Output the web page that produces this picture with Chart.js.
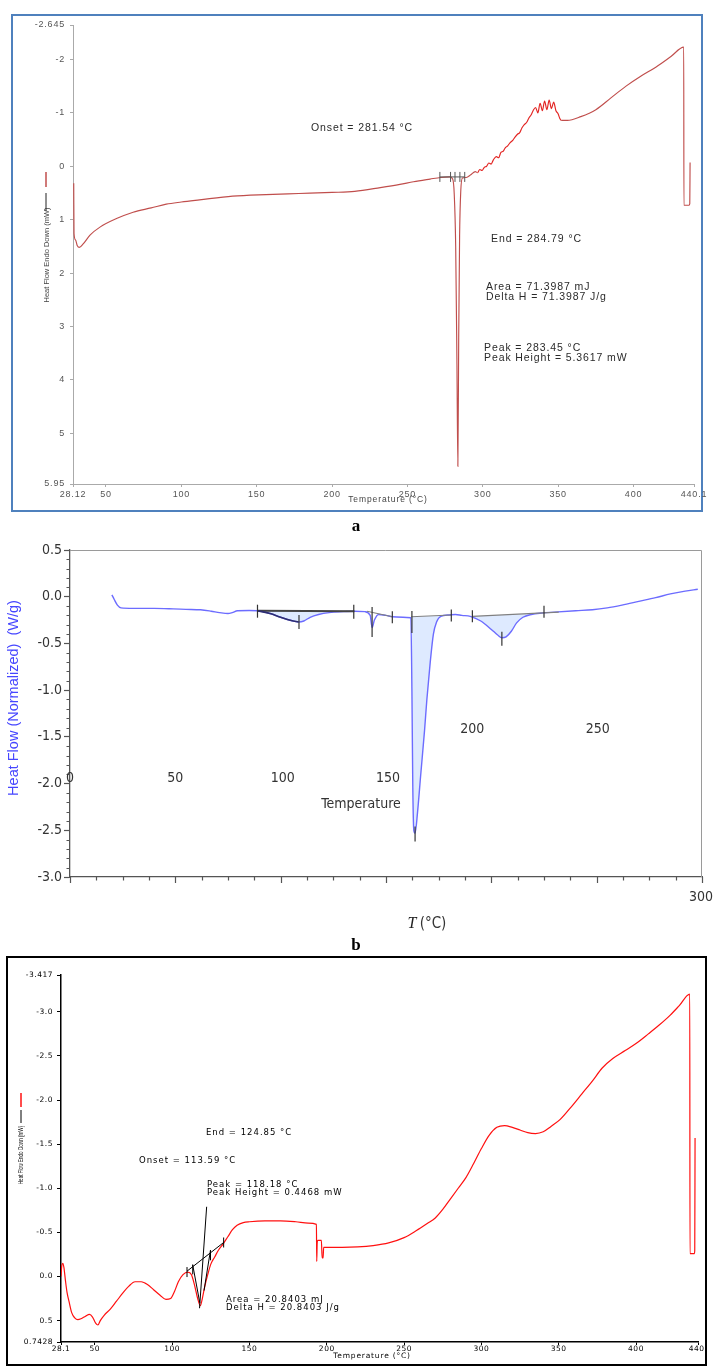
<!DOCTYPE html>
<html><head><meta charset="utf-8">
<script src="https://cdn.jsdelivr.net/npm/chart.js@4.4.1/dist/chart.umd.min.js"></script>
<style>
html,body{margin:0;padding:0;background:#fff;}
body{width:713px;height:1366px;position:relative;overflow:hidden;}
canvas{position:absolute;left:0;}
#boxA{position:absolute;left:11px;top:14px;width:688px;height:494px;border:2px solid rgb(79,129,189);}
#boxC{position:absolute;left:6px;top:956px;width:697px;height:406px;border:2px solid #000;}
.lab{position:absolute;width:40px;text-align:center;font:bold 17px 'Liberation Serif','DejaVu Serif',serif;color:#000;}
</style></head><body>
<div id="boxA"></div><div id="boxC"></div>
<canvas id="ca" width="713" height="520" style="top:0"></canvas>
<div class="lab" style="left:336px;top:516px">a</div>
<canvas id="cb" width="713" height="420" style="top:530px"></canvas>
<div class="lab" style="left:336px;top:935px">b</div>
<canvas id="cc" width="713" height="416" style="top:950px"></canvas>
<script>
// ---------- Panel a ----------
const aTemp = [28.6,28.8,29.8,31,32.3,35,39.4,46,57,68,80,90,100,112,134,156,178,200,215,232,245,254,265,272,278,280,281,282,282.8,283.45,284,284.6,285.4,286.5,289,292,295,296.5,298,299.5,301,302.5,304,305.5,307,309,310.5,312,313.5,315,316.5,318,320,321.5,323,324.5,326,327.5,329,330.5,332,333.5,335,336.5,338,339.5,341,342.5,344,345.5,347,348.5,350,351,352,356,365,375,385,395,405,415,425,433.3,433.4,436.8,437.3,437.5];
const aHeat = [0.32,1.26,1.38,1.49,1.52,1.45,1.29,1.14,0.98,0.86,0.78,0.71,0.67,0.63,0.56,0.53,0.51,0.49,0.47,0.4,0.34,0.29,0.24,0.21,0.2,0.24,0.5,1.5,3.6,5.62,3.2,1.3,0.45,0.22,0.21,0.16,0.1,0.12,0.06,0.08,0.02,0.0,-0.06,-0.04,-0.12,-0.18,-0.16,-0.26,-0.28,-0.35,-0.38,-0.44,-0.49,-0.55,-0.6,-0.63,-0.72,-0.78,-0.82,-0.9,-0.96,-1.05,-1.1,-1.0,-1.18,-1.04,-1.22,-1.06,-1.24,-1.08,-1.2,-1.04,-0.98,-0.9,-0.86,-0.86,-0.93,-1.06,-1.28,-1.5,-1.69,-1.86,-2.06,-2.23,0.73,0.73,0.7,-0.07];
const aXTicks = [28.12,50,100,150,200,250,300,350,400,440.1];
const aXTickLabels = ['28.12','50','100','150','200','250','300','350','400','440.1'];
const aYTicks = [-2.645,-2,-1,0,1,2,3,4,5,5.95];
const aYTickLabels = ['-2.645','-2','-1','0','1','2','3','4','5','5.95'];
const aBaseTemp = [271.5,288];
const aBaseHeat = [0.2,0.2];
const aMarkTemp = [271.5,278.6,281.54,284.79,288];
const aMarkHeat = [0.2,0.2,0.2,0.2,0.2];
const aNotes = ['Onset = 281.54 °C','End = 284.79 °C','Area = 71.3987 mJ','Delta H = 71.3987 J/g','Peak = 283.45 °C','Peak Height = 5.3617 mW'];
const aXTitle = 'Temperature (°C)';
const aYTitle = 'Heat Flow Endo Down (mW)';

// ---------- Panel b ----------
const bTemp = [19.9,21,22.5,24.2,30,40,49,55,62,67,71,75,77,79.5,85,89,95,100,105,108.5,111,114,118,123,130,135,140,142.5,143.4,144.5,146.5,150,153,158,161.8,162.3,162.7,163.2,163.8,165,166.5,168.3,169.4,171,172.5,174,176,180,183,186,190,195,200,203,205,207,209.5,212,215,219,224,230,240,248,255,262,270,278,285,292,298];
const bHeat = [0.02,-0.03,-0.09,-0.12,-0.125,-0.125,-0.13,-0.135,-0.14,-0.155,-0.17,-0.18,-0.17,-0.15,-0.148,-0.15,-0.18,-0.22,-0.255,-0.27,-0.26,-0.22,-0.19,-0.17,-0.16,-0.155,-0.16,-0.2,-0.33,-0.25,-0.19,-0.2,-0.215,-0.22,-0.225,-1.0,-2.0,-2.5,-2.53,-2.3,-1.9,-1.43,-1.1,-0.7,-0.4,-0.27,-0.21,-0.195,-0.19,-0.2,-0.21,-0.26,-0.35,-0.41,-0.44,-0.43,-0.37,-0.28,-0.22,-0.19,-0.175,-0.165,-0.15,-0.14,-0.12,-0.09,-0.05,-0.01,0.03,0.06,0.08];
const bBaseT0 = [89,141,162,191];
const bBaseV0 = [-0.15,-0.155,-0.215,-0.21];
const bBaseT1 = [135,153,181,232];
const bBaseV1 = [-0.155,-0.215,-0.195,-0.165];
const bMarkTemp = [89,108.7,134.7,143.4,153,162.3,163.8,181,191,205,225];
const bMarkHeat = [-0.155,-0.27,-0.16,-0.27,-0.22,-0.27,-2.54,-0.2,-0.21,-0.45,-0.16];
const bXLabels = ['0','50','100','150','200','250','300'];
const bXLabelValues = [0,50,100,150,200,250,300];
const bYTitle = 'Heat Flow (Normalized)  (W/g)';

// ---------- Panel c ----------
const cTemp = [28.1,28.6,29.3,30,31,32,33.5,35,37,39,41,44,46.5,48.5,50.5,52,53.5,56,60,64,68,72,76,80,84,88,92,96,99,101.5,104,107,110,112.5,114.5,116.5,118.2,119.5,121,123,125,127.5,130,133,136,139,142,146,150,160,170,180,188,193.3,193.5,193.8,194.2,196.5,197,197.6,198,200,210,220,230,240,250,258,265,270,275,280,285,290,295,300,305,310,315,320,325,330,335,340,345,351,358,365,372,378,385,393,400,408,415,422,428,434.8,434.9,437.8,438,438.2];
const cHeat = [0.0,-0.12,-0.15,-0.1,0.05,0.18,0.3,0.41,0.47,0.49,0.48,0.45,0.43,0.46,0.53,0.55,0.5,0.44,0.37,0.28,0.19,0.11,0.06,0.06,0.09,0.15,0.21,0.26,0.25,0.17,0.06,-0.02,-0.05,-0.02,0.1,0.25,0.33,0.25,0.12,-0.02,-0.14,-0.22,-0.3,-0.37,-0.45,-0.53,-0.58,-0.61,-0.62,-0.63,-0.63,-0.62,-0.605,-0.59,-0.17,-0.38,-0.41,-0.41,-0.21,-0.21,-0.33,-0.33,-0.33,-0.335,-0.35,-0.38,-0.44,-0.52,-0.6,-0.66,-0.76,-0.88,-1.0,-1.12,-1.28,-1.45,-1.6,-1.69,-1.71,-1.69,-1.66,-1.63,-1.62,-1.64,-1.7,-1.78,-1.92,-2.07,-2.22,-2.36,-2.47,-2.56,-2.64,-2.75,-2.85,-2.96,-3.07,-3.2,-0.26,-0.26,-0.3,-1.57];
const cXTicks = [28.1,50,100,150,200,250,300,350,400,440.1];
const cXTickLabels = ['28.1','50','100','150','200','250','300','350','400','440.'];
const cYTicks = [-3.417,-3.0,-2.5,-2.0,-1.5,-1.0,-0.5,0.0,0.5,0.7428];
const cYTickLabels = ['-3.417','-3.0','-2.5','-2.0','-1.5','-1.0','-0.5','0.0','0.5','0.7428'];
const cLineT0 = [109.6,117.7,113.3,124.8];
const cLineV0 = [-0.06,0.36,-0.13,-0.30];
const cLineT1 = [133.3,122.3,117.9,120.6];
const cLineV1 = [-0.385,-0.79,0.3,0.16];
const cMarkTemp = [109.6,113.3,124.8,133.3];
const cMarkHeat = [-0.05,-0.08,-0.24,-0.385];
const cNotes = ['End = 124.85 °C','Onset = 113.59 °C','Peak = 118.18 °C','Peak Height = 0.4468 mW','Area = 20.8403 mJ','Delta H = 20.8403 J/g'];
const cXTitle = 'Temperature (°C)';
const cYTitle = 'Heat Flow Endo Down (mW)';

// ---------- helpers ----------
const pts = (xs, ys) => xs.map((x, i) => ({x: x, y: ys[i]}));
function drawText(ctx, s, x, y, o) {
  ctx.save();
  ctx.font = o.font; ctx.fillStyle = o.color || '#000';
  ctx.textAlign = o.align || 'left'; ctx.textBaseline = 'middle';
  if ('letterSpacing' in ctx) ctx.letterSpacing = o.ls || '0px';
  ctx.translate(x, y);
  if (o.rot) ctx.rotate(o.rot);
  if (o.sx) ctx.scale(o.sx, 1);
  ctx.fillText(s, 0, 0);
  ctx.restore();
}
function seg(ctx, x0, y0, x1, y1, color, w) {
  ctx.save(); ctx.strokeStyle = color; ctx.lineWidth = w;
  ctx.beginPath(); ctx.moveTo(x0, y0); ctx.lineTo(x1, y1); ctx.stroke(); ctx.restore();
}
const noAnim = {responsive:false, animation:false, events:[], plugins:{legend:{display:false}, tooltip:{enabled:false}}};

// ---------- Chart a ----------
const SA = "'Liberation Sans', Arial, sans-serif";
new Chart(document.getElementById('ca'), {
  type: 'line',
  data: {datasets: [
    {data: pts(aTemp, aHeat), borderColor: 'rgb(192,78,76)', borderWidth: 1.15, pointRadius: 0,
     cubicInterpolationMode: 'monotone', order: 2,
     segment: {borderColor: c => (c.p0.parsed.x >= 296 && c.p1.parsed.x <= 352.5) ? 'rgb(226,36,34)' : undefined}},
    {data: pts(aBaseTemp, aBaseHeat), borderColor: '#555', borderWidth: 1, pointRadius: 0, order: 1},
    {data: pts(aMarkTemp, aMarkHeat), showLine: false, pointStyle: 'line', pointRotation: 90, pointRadius: 5,
     pointBorderColor: '#555', pointBorderWidth: 1, order: 0}
  ]},
  options: Object.assign({}, noAnim, {
    layout: {padding: {left: 23, top: 25, right: 19, bottom: 10}},
    scales: {
      x: {type: 'linear', min: 28.12, max: 440.1,
          afterBuildTicks: s => { s.ticks = aXTicks.map(v => ({value: v})); },
          afterFit: s => { s.height = 26; },
          ticks: {callback: (v, i) => aXTickLabels[i], font: {family: SA, size: 9}, color: '#555', maxRotation: 0, autoSkip: false, padding: 2},
          grid: {display: true, drawOnChartArea: false, tickLength: 3, color: '#aaa'},
          border: {color: '#aaa'}},
      y: {type: 'linear', reverse: true, min: -2.645, max: 5.95,
          afterBuildTicks: s => { s.ticks = aYTicks.map(v => ({value: v})); },
          afterFit: s => { s.width = 50; },
          ticks: {callback: (v, i) => aYTickLabels[i], font: {family: SA, size: 9}, color: '#555', autoSkip: false, padding: 5},
          grid: {display: true, drawOnChartArea: false, tickLength: 3, color: '#aaa'},
          border: {color: '#aaa'}}
    }
  }),
  plugins: [{
    id: 'txtA',
    beforeDraw(chart) { if ('letterSpacing' in chart.ctx) chart.ctx.letterSpacing = '0.8px'; },
    afterDraw(chart) {
      const ctx = chart.ctx;
      const F = "10.5px " + SA;
      const pos = [[311,128],[491,239],[486,287],[486,297],[484,348],[484,358]];
      aNotes.forEach((s, i) => drawText(ctx, s, pos[i][0], pos[i][1], {font: F, color: '#2a2a2a', ls: '0.9px'}));
      drawText(ctx, aXTitle, 388, 500, {font: "8.5px " + SA, color: '#444', align: 'center', ls: '0.9px'});
      drawText(ctx, aYTitle, 47, 255, {font: "7.5px " + SA, color: '#444', align: 'center', rot: -Math.PI / 2});
      seg(ctx, 46, 172, 46, 187, 'rgb(192,78,76)', 1.5);
      seg(ctx, 46, 193, 46, 211, '#222', 1);
    }
  }]
});

// ---------- Chart b ----------
const SN = "'Liberation Sans Narrow','DejaVu Sans Condensed','Roboto Condensed','Liberation Sans',sans-serif";
const bCurve = pts(bTemp, bHeat);
function bRegion(k) {
  const p = bCurve.filter(q => q.x >= bBaseT0[k] && q.x <= bBaseT1[k]);
  p.push({x: bBaseT1[k], y: bBaseV1[k]}, {x: bBaseT0[k], y: bBaseV0[k]});
  return p;
}
const bDatasets = [
  {data: bCurve, borderColor: 'rgb(108,108,255)', borderWidth: 1.4, pointRadius: 0, cubicInterpolationMode: 'monotone', order: 2},
  {data: bCurve.filter(q => q.x >= 89 && q.x <= 108.7), borderColor: '#2e2e70', borderWidth: 1.6, pointRadius: 0, cubicInterpolationMode: 'monotone', order: 1}
];
[0, 2, 3].forEach(k => bDatasets.push({data: bRegion(k), fill: 'shape', backgroundColor: 'rgba(205,222,255,0.65)', borderColor: 'rgba(0,0,0,0)', borderWidth: 1, pointRadius: 0, tension: 0, order: 10}));
bBaseT0.forEach((t, k) => bDatasets.push({data: [{x: t, y: bBaseV0[k]}, {x: bBaseT1[k], y: bBaseV1[k]}], borderColor: k === 0 ? '#444' : '#808080', borderWidth: k === 0 ? 2 : 1.1, pointRadius: 0, order: 1}));
bDatasets.push({data: pts(bMarkTemp, bMarkHeat), showLine: false, pointStyle: 'line', pointRotation: 90,
  pointRadius: [6.5, 7, 7, 15, 6, 11, 7.5, 6, 6, 7, 6], pointBorderColor: '#333', pointBorderWidth: 1.2, order: 0});

new Chart(document.getElementById('cb'), {
  type: 'line',
  data: {datasets: bDatasets},
  options: Object.assign({}, noAnim, {
    layout: {padding: {left: 10, top: 20, right: 11, bottom: 13}},
    scales: {
      x: {type: 'linear', min: 0, max: 300, afterFit: s => { s.height = 60; },
          ticks: {display: false}, grid: {display: false}, border: {display: true, color: '#555', width: 1.3}},
      y: {type: 'linear', min: -3, max: 0.5, afterFit: s => { s.width = 60; },
          ticks: {stepSize: 0.5, callback: v => v.toFixed(1), font: {family: SN, size: 14}, color: '#333', padding: 2},
          grid: {display: true, drawOnChartArea: false, tickLength: 6, color: '#555', tickWidth: 1.2},
          border: {display: true, color: '#555', width: 1.3}}
    }
  }),
  plugins: [{
    id: 'txtB',
    afterDraw(chart) {
      const ctx = chart.ctx, a = chart.chartArea, xs = chart.scales.x, ys = chart.scales.y;
      ctx.save(); ctx.strokeStyle = '#9a9a9a'; ctx.lineWidth = 1;
      ctx.beginPath(); ctx.moveTo(a.left, a.top + 0.5); ctx.lineTo(a.right - 0.5, a.top + 0.5); ctx.lineTo(a.right - 0.5, a.bottom); ctx.stroke(); ctx.restore();
      for (let k = -30; k <= 5; k++) {
        if (k % 5 === 0) continue;
        const py = Math.round(ys.getPixelForValue(k / 10)) + 0.5;
        seg(ctx, a.left - 3.5, py, a.left, py, '#555', 1);
      }
      for (let k = 0; k <= 24; k++) {
        const px = Math.round(xs.getPixelForValue(k * 12.5)) + 0.5;
        seg(ctx, px, a.bottom, px, a.bottom + (k % 4 === 0 ? 6 : 3.5), '#555', 1.2);
      }
      const lay = [[0, 0, 248], [0, 0, 248], [2, 0, 248], [2, 0, 248], [-19, 0, 199], [1, 0, 199], [-1, 0, 367]];
      bXLabels.forEach((s, i) => drawText(ctx, s, xs.getPixelForValue(bXLabelValues[i]) + lay[i][0], lay[i][2], {font: "14px " + SN, color: '#333', align: 'center'}));
      drawText(ctx, 'Temperature', 361, 274, {font: "14px " + SN, color: '#333', align: 'center'});
      drawText(ctx, 'T', 412, 394, {font: "italic 16px 'Liberation Serif','DejaVu Serif',serif", color: '#222', align: 'center'});
      drawText(ctx, '(°C)', 433, 394, {font: "15px " + SN, color: '#333', align: 'center'});
      drawText(ctx, bYTitle, 14, 168, {font: "14.5px 'Liberation Sans',Arial,sans-serif", color: 'rgb(70,70,255)', align: 'center', rot: -Math.PI / 2});
    }
  }]
});

// ---------- Chart c ----------
const SD = "'DejaVu Sans', 'Liberation Sans', sans-serif";
const cDatasets = [
  {data: pts(cTemp, cHeat), borderColor: '#ff1010', borderWidth: 1.2, pointRadius: 0, cubicInterpolationMode: 'monotone', order: 2}
];
cLineT0.forEach((t, k) => cDatasets.push({data: [{x: t, y: cLineV0[k]}, {x: cLineT1[k], y: cLineV1[k]}], borderColor: '#000', borderWidth: 1, pointRadius: 0, order: 1}));
cDatasets.push({data: pts(cMarkTemp, cMarkHeat), showLine: false, pointStyle: 'line', pointRotation: 90, pointRadius: 5,
  pointBorderColor: '#000', pointBorderWidth: 1, order: 0});

new Chart(document.getElementById('cc'), {
  type: 'line',
  data: {datasets: cDatasets},
  options: Object.assign({}, noAnim, {
    layout: {padding: {left: 16, top: 25, right: 15, bottom: 4}},
    scales: {
      x: {type: 'linear', min: 28.1, max: 440.1,
          afterBuildTicks: s => { s.ticks = cXTicks.map(v => ({value: v})); },
          afterFit: s => { s.height = 20; },
          ticks: {callback: (v, i) => cXTickLabels[i], font: {family: SD, size: 7.5}, color: '#000', maxRotation: 0, autoSkip: false, padding: 0},
          grid: {display: true, drawOnChartArea: false, tickLength: 3, color: '#000'},
          border: {color: '#000', width: 1.5}},
      y: {type: 'linear', reverse: true, min: -3.417, max: 0.7428,
          afterBuildTicks: s => { s.ticks = cYTicks.map(v => ({value: v})); },
          afterFit: s => { s.width = 45; },
          ticks: {callback: (v, i) => cYTickLabels[i], font: {family: SD, size: 7.5}, color: '#000', autoSkip: false, padding: 4},
          grid: {display: true, drawOnChartArea: false, tickLength: 4, color: '#000'},
          border: {color: '#000', width: 1.5}}
    }
  }),
  plugins: [{
    id: 'txtC',
    beforeDraw(chart) { if ('letterSpacing' in chart.ctx) chart.ctx.letterSpacing = '0.5px'; },
    afterDraw(chart) {
      const ctx = chart.ctx;
      const F = "8.5px " + SD;
      const pos = [[206,183],[139,211],[207,235],[207,243],[226,350],[226,358]];
      cNotes.forEach((s, i) => drawText(ctx, s, pos[i][0], pos[i][1], {font: F, color: '#000', ls: '1px'}));
      drawText(ctx, cXTitle, 372, 406, {font: "7.5px " + SD, color: '#000', align: 'center', ls: '0.8px'});
      drawText(ctx, cYTitle, 21, 205, {font: "7px 'Liberation Sans',sans-serif", color: '#000', align: 'center', rot: -Math.PI / 2, sx: 0.66});
      seg(ctx, 21, 143, 21, 157, '#ff1010', 1.5);
      seg(ctx, 21, 160, 21, 173, '#000', 1);
    }
  }]
});
</script>
</body></html>
